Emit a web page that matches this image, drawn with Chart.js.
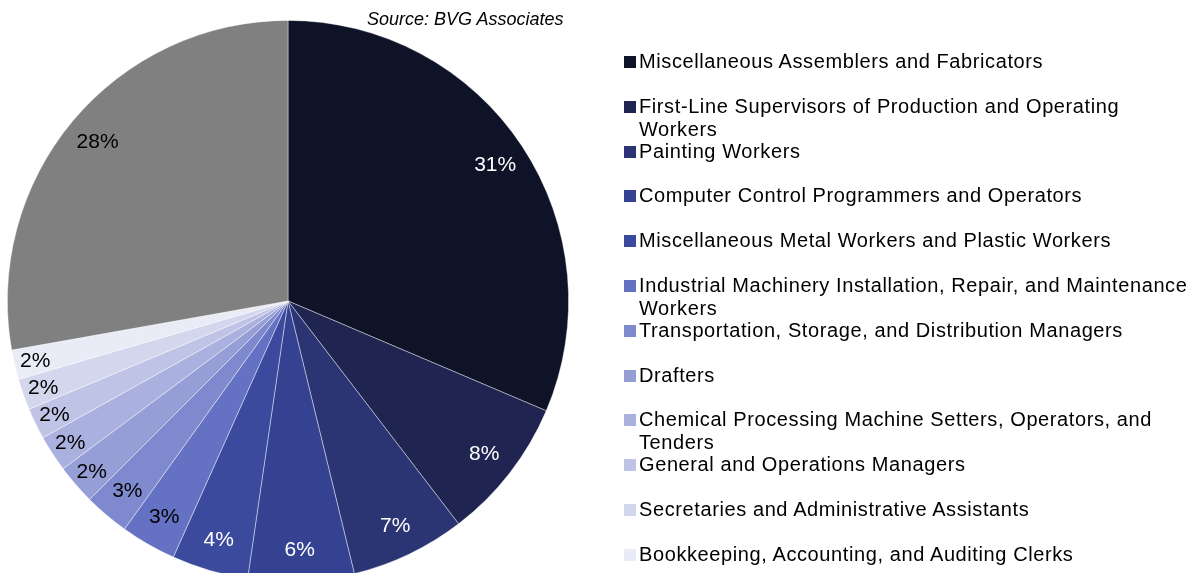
<!DOCTYPE html>
<html>
<head>
<meta charset="utf-8">
<script src="https://cdn.jsdelivr.net/npm/chart.js@4/dist/chart.umd.min.js"></script>
<style>
  html, body { margin: 0; padding: 0; background: #fff; overflow: hidden; }
  body { width: 1196px; height: 573px; position: relative; font-family: "Liberation Sans", Arial, sans-serif; }
  #wrap { position: absolute; left: 0; top: 0; width: 1196px; height: 602px; }
  #source { position: absolute; left: 367px; top: 9px; font-size: 18px; font-style: italic; color: #000; white-space: nowrap; }
  #legend { position: absolute; left: 0; top: 0; }
  .item { position: absolute; left: 624px; width: 565px; font-size: 20px; line-height: 23px; letter-spacing: 0.6px; color: #000; }
  .item .box { position: absolute; left: 0; top: 6px; width: 12px; height: 12px; }
  .item .txt { margin-left: 15px; display: block; }
</style>
</head>
<body>
<div id="wrap"><canvas id="pie" width="1196" height="602"></canvas></div>
<div id="source">Source: BVG Associates</div>
<div id="legend"></div>
<script>
// occupations, clockwise from 12 o'clock; last slice (grey) has no legend entry
const occupations = [
  'Miscellaneous Assemblers and Fabricators',
  'First-Line Supervisors of Production and Operating Workers',
  'Painting Workers',
  'Computer Control Programmers and Operators',
  'Miscellaneous Metal Workers and Plastic Workers',
  'Industrial Machinery Installation, Repair, and Maintenance Workers',
  'Transportation, Storage, and Distribution Managers',
  'Drafters',
  'Chemical Processing Machine Setters, Operators, and Tenders',
  'General and Operations Managers',
  'Secretaries and Administrative Assistants',
  'Bookkeeping, Accounting, and Auditing Clerks',
  'Other'
];
// shares in % (labels show them rounded)
const shares = [31.4, 8.2, 6.6, 6.1, 4.4, 3.2, 2.6, 2.3, 2.1, 1.8, 1.8, 1.7, 27.8];
const sliceColors = [
  '#0e1328', '#1f2550', '#2c3573', '#354291', '#3c4a9e', '#6571c3',
  '#7f8ace', '#959fd6', '#aab1de', '#bfc4e6', '#d3d7ee', '#e9ebf6', '#808080'
];
const labelColors = [
  '#fff', '#fff', '#fff', '#fff', '#fff', '#000',
  '#000', '#000', '#000', '#000', '#000', '#000', '#000'
];

// percentage labels inside each slice
const sliceLabels = {
  id: 'sliceLabels',
  afterDatasetsDraw(chart) {
    const ctx = chart.ctx;
    const meta = chart.getDatasetMeta(0);
    ctx.save();
    ctx.font = '21px "Liberation Sans", Arial, sans-serif';
    ctx.textAlign = 'center';
    ctx.textBaseline = 'middle';
    meta.data.forEach((arc, i) => {
      const p = arc.getProps(['x', 'y', 'startAngle', 'endAngle', 'outerRadius'], true);
      const mid = (p.startAngle + p.endAngle) / 2;
      const r = p.outerRadius * (shares[i] < 2.5 ? 0.925 : 0.885);
      ctx.fillStyle = labelColors[i];
      ctx.fillText(Math.round(shares[i]) + '%', p.x + Math.cos(mid) * r, p.y + Math.sin(mid) * r + 1);
    });
    ctx.restore();
  }
};

new Chart(document.getElementById('pie'), {
  type: 'pie',
  data: {
    labels: occupations,
    datasets: [{
      data: shares,
      backgroundColor: sliceColors,
      borderColor: 'rgba(255,255,255,0.55)',
      borderWidth: 0.75
    }]
  },
  options: {
    responsive: false,
    animation: false,
    layout: { padding: { left: 7, right: 627, top: 20, bottom: 20 } },
    plugins: { legend: { display: false }, tooltip: { enabled: false } }
  },
  plugins: [sliceLabels]
});

// legend (skips the unlabelled grey slice)
const legend = document.getElementById('legend');
occupations.slice(0, 12).forEach((name, i) => {
  const row = document.createElement('div');
  row.className = 'item';
  row.style.top = (50 + i * 44.8) + 'px';
  row.innerHTML = '<span class="box" style="background:' + sliceColors[i] + '"></span><span class="txt">' + name + '</span>';
  legend.appendChild(row);
});
</script>
</body>
</html>
